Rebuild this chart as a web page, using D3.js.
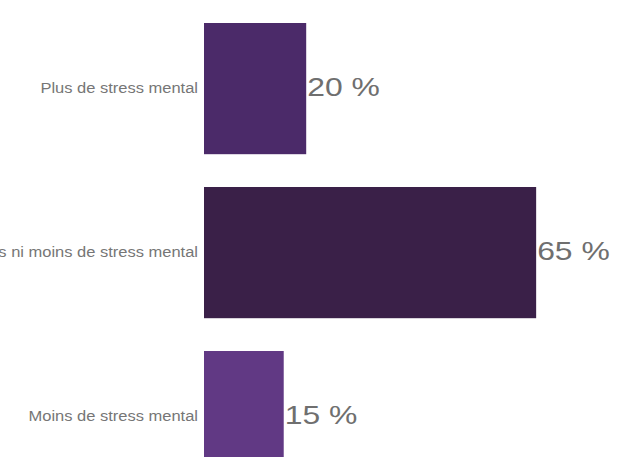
<!DOCTYPE html>
<html>
<head>
<meta charset="utf-8">
<script src="https://cdn.jsdelivr.net/npm/d3@7"></script>
<style>
  body { margin: 0; background: #fff; }
  text { font-family: "Liberation Sans", Arial, Helvetica, sans-serif; }
</style>
</head>
<body>
<script>
const width = 635, height = 457;

const categories = ["Plus de stress mental", "Ni plus ni moins de stress mental", "Moins de stress mental"];
const values = [20, 65, 15.6];
const valueLabels = ["20 %", "65 %", "15 %"];
const colors = ["#4b2a69", "#3a2048", "#613984"];

let svg = d3.select("body").append("svg")
        .attr("width", width)
        .attr("height", height);

let x = d3.scaleLinear()
        .domain([0, 100])
        .range([204, 204 + 511]);

let y = d3.scaleBand()
        .domain(categories)
        .range([6.6, 498.6])
        .paddingInner(0.2)
        .paddingOuter(0.1);

svg.selectAll("rect.bar")
  .data(categories)
  .enter().append("rect")
  .attr("class", "bar")
  .attr("x", x(0))
  .attr("y", d => y(d))
  .attr("width", (d, i) => x(values[i]) - x(0))
  .attr("height", y.bandwidth())
  .attr("fill", (d, i) => colors[i]);

// category labels, right aligned against the bars (font is a bit wider than Arial)
svg.selectAll("text.cat")
  .data(categories)
  .enter().append("text")
  .attr("class", "cat")
  .attr("transform", d => "translate(" + (x(0) - 6) + "," + (y(d) + y.bandwidth() / 2 + 4) + ") scale(1.1,1)")
  .attr("text-anchor", "end")
  .attr("font-size", 15)
  .attr("fill", "#767676")
  .text(d => d);

// value labels
svg.selectAll("text.val")
  .data(categories)
  .enter().append("text")
  .attr("class", "val")
  .attr("transform", (d, i) => "translate(" + (x(values[i]) + 1) + "," + (y(d) + y.bandwidth() / 2 + 7) + ") scale(1.25,1)")
  .attr("font-size", 25.5)
  .attr("fill", "#6f6f6f")
  .text((d, i) => valueLabels[i]);
</script>
</body>
</html>
